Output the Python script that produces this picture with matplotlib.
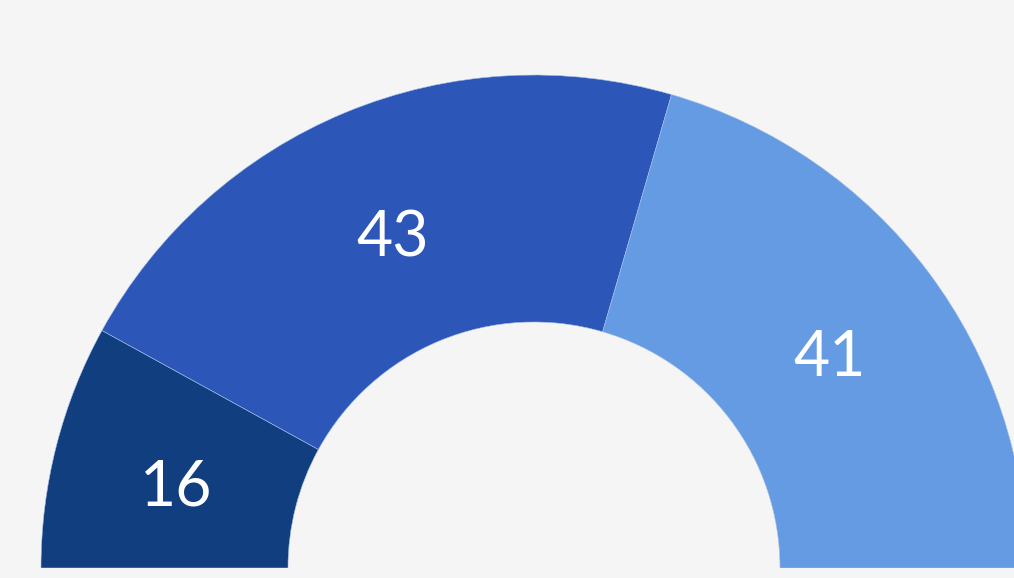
"""Half-donut (semicircle) chart: three shares summing to 100."""
import matplotlib
matplotlib.use("Agg")
import matplotlib.pyplot as plt
from matplotlib.patches import Wedge
import numpy as np

# data
values = [16, 43, 41]
labels = ["16", "43", "41"]
colors = ["#103e7e", "#2c57b8", "#649be3"]

# geometry in pixel units (figure is 1014 x 578)
W, H = 1014, 578
CX, CY = 534, 578 - 568
R_OUT, R_IN = 493, 246
BG = "#f5f5f5"

plt.rcParams["font.family"] = ["Lato", "DejaVu Sans"]

fig = plt.figure(figsize=(W / 100, H / 100), dpi=100, facecolor=BG)
ax = fig.add_axes([0, 0, 1, 1])
ax.set_xlim(0, W)
ax.set_ylim(0, H)
ax.set_aspect("equal")
ax.axis("off")
ax.set_facecolor(BG)

total = sum(values)
start = 180.0
r_mid = (R_OUT + R_IN) / 2
for v, lab, c in zip(values, labels, colors):
    span = 180.0 * v / total
    end = start - span
    ax.add_patch(Wedge((CX, CY), R_OUT, end, start, width=R_OUT - R_IN,
                       facecolor=c, edgecolor="#a8c0e8", linewidth=0.4))
    mid = np.radians((start + end) / 2)
    x, y = CX + r_mid * np.cos(mid), CY + r_mid * np.sin(mid)
    ax.annotate(lab, (x, y), xytext=(0, -21.5), textcoords="offset points",
                ha="center", va="baseline", color="white", fontsize=45)
    start = end

# hide anything below the flat edge of the half donut
ax.add_patch(plt.Rectangle((0, 0), W, CY, facecolor=BG, edgecolor="none", zorder=5))

fig.savefig("out.png", dpi=100, facecolor=BG)
